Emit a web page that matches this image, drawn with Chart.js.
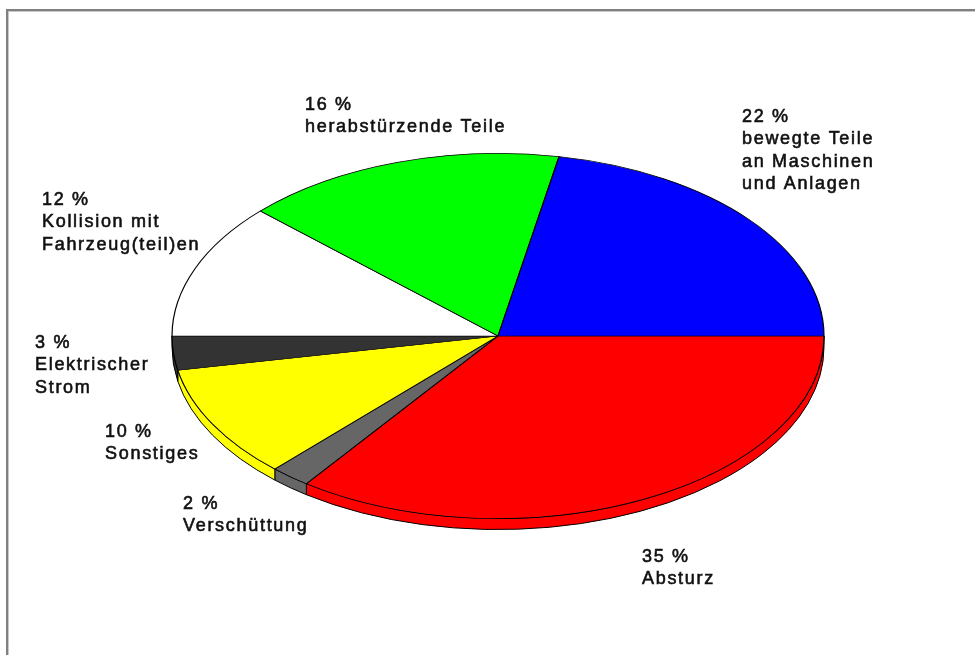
<!DOCTYPE html>
<html lang="de">
<head>
    <meta charset="UTF-8">
    <title>Unfallursachen</title>
    <script src="https://cdn.jsdelivr.net/npm/chart.js"></script>
    <style>
        body {
            margin: 0;
            background-color: #fff;
            font-family: "Liberation Sans", Arial, sans-serif;
        }
        .frame {
            position: absolute;
            left: 6px;
            top: 9px;
            width: 975px;
            height: 660px;
            border-top: 2px solid #808080;
            border-left: 2px solid #808080;
            box-shadow: inset 1px 1px 0 #c8c8c8;
        }
        .chart-container {
            position: absolute;
            left: 0;
            top: 0;
            width: 975px;
            height: 655px;
        }
    </style>
</head>
<body>
    <div class="frame"></div>
    <div class="chart-container">
        <canvas id="pieChart"></canvas>
    </div>
    <script>
        // slices clockwise, starting at 3 o'clock
        const categories = ['Absturz', 'Verschüttung', 'Sonstiges', 'Elektrischer Strom',
            'Kollision mit Fahrzeug(teil)en', 'herabstürzende Teile', 'bewegte Teile an Maschinen und Anlagen'];
        const shares = [35, 2, 10, 3, 12, 16, 22];
        const labelLines = [
            ['35 %', 'Absturz'],
            ['2 %', 'Verschüttung'],
            ['10 %', 'Sonstiges'],
            ['3 %', 'Elektrischer', 'Strom'],
            ['12 %', 'Kollision mit', 'Fahrzeug(teil)en'],
            ['16 %', 'herabstürzende Teile'],
            ['22 %', 'bewegte Teile', 'an Maschinen', 'und Anlagen']
        ];
        const sliceColors = ['#ff0000', '#666666', '#ffff00', '#333333', '#ffffff', '#00ff00', '#0000ff'];

        // where each label block starts (left x, centre of first line)
        const labelPos = [[642, 557], [183, 504], [105, 432], [35, 343], [42, 200], [305, 105], [742, 117]];

        const tilt = 0.56;   // vertical squash of the pie
        const depth = 11;    // thickness of the rim

        const tiltPlugin = {
            id: 'tilt',
            beforeDatasetsDraw(chart) {
                const ctx = chart.ctx;
                const arcs = chart.getDatasetMeta(0).data;
                ctx.save();
                ctx.strokeStyle = '#000';
                ctx.lineWidth = 1;
                arcs.forEach((arc, i) => {
                    const p = arc.getProps(['x', 'y', 'startAngle', 'endAngle', 'outerRadius']);
                    const a0 = Math.max(p.startAngle, 0);
                    const a1 = Math.min(p.endAngle, Math.PI);
                    if (a1 <= a0) return;
                    const ry = p.outerRadius * tilt;
                    ctx.beginPath();
                    ctx.ellipse(p.x, p.y, p.outerRadius, ry, 0, a0, a1);
                    ctx.ellipse(p.x, p.y + depth, p.outerRadius, ry, 0, a1, a0, true);
                    ctx.closePath();
                    ctx.fillStyle = sliceColors[i];
                    ctx.fill();
                    ctx.stroke();
                });
                ctx.restore();

                const c = arcs[0];
                ctx.save();
                ctx.translate(c.x, c.y);
                ctx.scale(1, tilt);
                ctx.translate(-c.x, -c.y);
            },
            afterDatasetsDraw(chart) {
                chart.ctx.restore();
            },
            afterDraw(chart) {
                const ctx = chart.ctx;
                ctx.save();
                ctx.fillStyle = '#111';
                ctx.strokeStyle = '#111';
                ctx.lineWidth = 0.6;
                ctx.font = '18px "Liberation Sans", Arial, sans-serif';
                ctx.letterSpacing = '1.7px';
                ctx.textBaseline = 'middle';
                ctx.textAlign = 'left';
                labelLines.forEach((lines, i) => {
                    lines.forEach((line, j) => {
                        const y = labelPos[i][1] + j * 22.5;
                        ctx.fillText(line, labelPos[i][0], y);
                        ctx.strokeText(line, labelPos[i][0], y);
                    });
                });
                ctx.restore();
            }
        };

        new Chart(document.getElementById('pieChart'), {
            type: 'pie',
            data: {
                labels: categories,
                datasets: [{
                    data: shares,
                    backgroundColor: sliceColors,
                    borderColor: '#000',
                    borderWidth: 1.2,
                    clip: false
                }]
            },
            options: {
                responsive: true,
                maintainAspectRatio: false,
                animation: false,
                events: [],
                rotation: 90,
                radius: 326,
                layout: { padding: { left: 21, top: 17 } },
                plugins: {
                    legend: { display: false },
                    tooltip: { enabled: false }
                }
            },
            plugins: [tiltPlugin]
        });
    </script>
</body>
</html>
